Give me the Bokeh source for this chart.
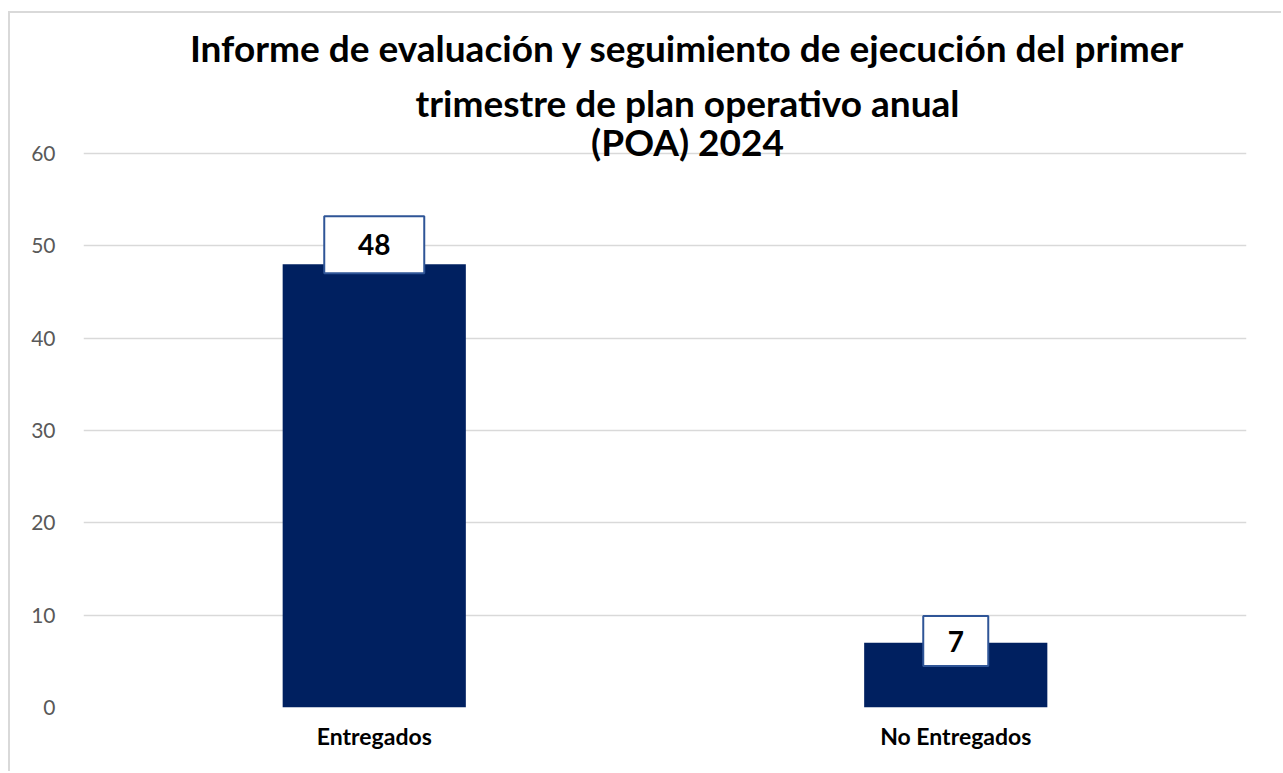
from bokeh.plotting import figure
from bokeh.models import ColumnDataSource, Range1d, FactorRange, FixedTicker, Label
from bokeh.embed import file_html
from bokeh.resources import INLINE
from bokeh.core.properties import value

# ---- data ----
categories = ["Entregados", "No Entregados"]
counts = [48, 7]
y_ticks = [0, 10, 20, 30, 40, 50, 60]
title_lines = [
    "Informe de evaluación y seguimiento de ejecución del primer",
    "trimestre de plan operativo anual",
    "(POA) 2024",
]

# ---- style (label box placement / size) ----
label_lift = [2.1, 0.2]
label_box_w = [100, 65]
label_box_h = [57, 50]

FONT = "Lato"
BAR = "#002060"

src = ColumnDataSource(dict(
    cat=categories,
    val=counts,
    lab=[str(v) for v in counts],
    ly=[v + d for v, d in zip(counts, label_lift)],
    bw=label_box_w,
    bh=label_box_h,
))

p = figure(
    x_range=FactorRange(*categories),
    y_range=Range1d(0, 74.6),
    width=1273, height=760,
    output_backend="svg", toolbar_location=None,
    min_border_left=73, min_border_right=37,
    min_border_top=5, min_border_bottom=66,
)
p.styles = {
    "margin-left": "8px",
    "margin-top": "11px",
    "border-left": "2px solid #D9D9D9",
    "border-top": "2px solid #D9D9D9",
}
p.outline_line_color = None
p.background_fill_color = "white"
p.border_fill_color = "white"

p.vbar(x="cat", top="val", width=0.315, source=src,
       fill_color=BAR, line_color=None)

p.rect(x="cat", y="ly", width="bw", height="bh", source=src,
       width_units="screen", height_units="screen",
       fill_color="white", line_color="#2F5597", line_width=2)
p.text(x="cat", y="ly", text="lab", source=src,
       text_align="center", text_baseline="middle",
       text_font=value(FONT), text_font_style="bold",
       text_font_size="28px", text_color="black")

# title lines (screen units, relative to frame)
baselines = [660, 605, 566]
for line, yb in zip(title_lines, baselines):
    p.add_layout(Label(x=604, y=yb, x_units="screen", y_units="screen",
                       text=line, text_align="center", text_baseline="alphabetic",
                       text_font=FONT, text_font_style="bold",
                       text_font_size="37px", text_color="black"))

# axes
p.yaxis.ticker = FixedTicker(ticks=y_ticks)
p.yaxis.axis_line_color = None
p.yaxis.major_tick_line_color = None
p.yaxis.minor_tick_line_color = None
p.yaxis.major_label_standoff = 22
p.yaxis.major_label_text_font = FONT
p.yaxis.major_label_text_font_size = "21px"
p.yaxis.major_label_text_color = "#595959"

p.xaxis.axis_line_color = None
p.xaxis.major_tick_line_color = None
p.xaxis.minor_tick_line_color = None
p.xaxis.major_label_standoff = 8
p.xaxis.major_label_text_font = FONT
p.xaxis.major_label_text_font_style = "bold"
p.xaxis.major_label_text_font_size = "23px"
p.xaxis.major_label_text_color = "black"

p.xgrid.grid_line_color = None
p.ygrid.grid_line_color = "#D9D9D9"
p.ygrid.grid_line_width = 1.5

open("out.html", "w").write(file_html(p, INLINE))
